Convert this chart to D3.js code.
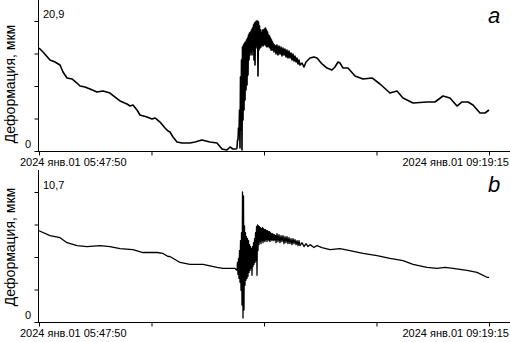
<!DOCTYPE html>
<html>
<head>
<meta charset="utf-8">
<script src="https://cdn.jsdelivr.net/npm/d3@7"></script>
<style>
  body { margin: 0; background: #fff; }
  svg { display: block; font-family: "Liberation Sans", Arial, sans-serif; }
</style>
</head>
<body>
<div id="chart"></div>
<script>
// time range of the record
const startTime = new Date(2024, 0, 1, 5, 47, 50)
const endTime = new Date(2024, 0, 1, 9, 19, 15)

// tick labels
const xLabels = ["2024 янв.01 05:47:50", "2024 янв.01 09:19:15"]
const xTickMinutes = [0, 52.85, 105.71, 158.56, 211.42]
const panelLetters = ["a", "b"]
const yTitle = "Деформация, мкм"
const yMax = [20.9, 10.7]

// [minutes from start, deformation]
const seriesA = [
  [0, 16.56], [1.88, 15.92], [5.17, 14.63], [7.52, 14.31], [9.87, 13.83], [11.28, 12.70],
  [13.15, 11.74], [15.50, 11.58], [17.85, 10.93], [19.26, 10.45], [21.61, 10.29], [23.96, 9.97],
  [27.25, 9.49], [30.07, 9.65], [33.36, 9.32], [35.71, 8.68], [38.06, 8.04], [41.34, 7.56],
  [42.75, 7.23], [44.16, 7.40], [46.04, 6.59], [47.45, 5.79], [50.74, 5.47], [53.09, 5.14],
  [54.50, 5.31], [56.85, 4.66], [59.20, 3.70], [60.61, 3.22], [61.55, 3.05], [62.95, 2.25],
  [64.83, 1.45], [67.18, 1.29], [70.94, 1.29], [73.29, 1.45], [76.58, 1.77], [80.34, 1.45],
  [83.63, 1.29], [85.98, 0.32], [88.32, 0.16], [89.73, 0.64], [91.14, 0.32], [92.55, 0.32],
  // burst
  [93.02, 0.48], [93.26, 1.77], [93.49, 1.77], [93.73, 3.70], [93.96, 2.57], [94.20, 6.59],
  [94.43, 0.48], [94.67, 11.90], [94.90, 3.38], [95.14, 14.63], [95.37, 0.16], [95.61, 16.72],
  [95.84, 4.98], [96.08, 17.04], [96.31, 6.59], [96.55, 17.36], [96.78, 8.20], [97.02, 17.52],
  [97.25, 9.81], [97.49, 17.85], [97.72, 10.61], [97.96, 18.17], [98.19, 12.22], [98.43, 18.65],
  [98.66, 14.63], [98.90, 18.97], [99.13, 15.43], [99.37, 19.13], [99.60, 15.92], [99.84, 19.45],
  [100.07, 15.43], [100.31, 19.77], [100.54, 16.24], [100.78, 20.26], [101.01, 14.63], [101.25, 20.58],
  [101.48, 13.83], [101.72, 20.74], [101.95, 16.56], [102.19, 20.90], [102.42, 17.04], [102.66, 20.90],
  [102.89, 12.06], [103.13, 20.74], [103.36, 16.24], [103.60, 20.10], [103.83, 16.56], [104.07, 19.45],
  [104.30, 16.72], [104.54, 18.97], [104.77, 17.04], [105.01, 19.45], [105.24, 16.88], [105.48, 19.45],
  [105.71, 17.04], [105.95, 19.61], [106.18, 17.20], [106.42, 19.77], [106.65, 16.88], [106.89, 19.45],
  [107.12, 16.72], [107.36, 19.13], [107.59, 16.88], [107.83, 18.65], [108.06, 16.72], [108.30, 18.49],
  [108.53, 16.56], [108.77, 18.17], [109.00, 16.24], [109.24, 17.85], [109.47, 16.24], [109.71, 17.52],
  [109.94, 16.24], [110.18, 17.20], [110.41, 15.92], [110.65, 17.04], [110.88, 16.24], [111.12, 16.88],
  // decay
  [111.35, 15.59], [111.81, 17.04], [112.28, 15.43], [112.75, 16.88], [113.22, 15.59], [113.69, 16.72],
  [114.16, 15.27], [114.63, 16.56], [115.10, 15.43], [115.57, 16.40], [116.04, 15.11], [116.51, 16.24],
  [116.98, 14.95], [117.45, 16.08], [117.92, 14.95], [118.39, 15.76], [118.86, 14.63], [119.33, 15.59],
  [119.80, 14.47], [120.27, 15.27], [120.74, 14.31], [121.21, 14.95], [121.68, 13.99], [122.15, 14.63],
  [122.62, 13.83], [123.56, 14.15], [124.50, 13.50], [125.44, 14.31], [127.32, 14.95], [129.20, 15.11],
  [130.61, 14.95], [132.96, 13.99], [135.31, 13.34], [137.65, 13.02], [139.06, 13.50], [140.47, 14.31],
  [141.41, 14.15], [142.82, 13.34], [145.17, 13.34], [148.46, 12.06], [152.22, 11.58], [156.45, 11.74],
  [160.20, 10.77], [164.90, 9.32], [168.19, 9.65], [171.01, 8.52], [175.71, 7.72], [182.29, 7.88],
  [186.04, 7.88], [189.80, 8.84], [193.09, 8.52], [196.38, 7.23], [198.73, 7.88], [201.55, 7.88],
  [203.90, 7.40], [207.19, 6.11], [209.54, 6.11], [211.42, 6.59]
]

const seriesB = [
  [0, 7.51], [5.17, 7.11], [9.87, 6.94], [13.15, 6.53], [17.85, 6.29], [22.55, 6.21],
  [28.66, 6.29], [33.36, 6.21], [38.06, 6.04], [44.16, 5.96], [48.86, 5.72], [55.44, 5.72],
  [58.26, 5.64], [60.61, 5.39], [61.55, 5.39], [66.24, 4.90], [70.94, 4.74], [77.05, 4.74],
  [83.63, 4.49], [86.44, 4.41], [92.08, 4.41],
  // burst
  [93.02, 4.25], [93.26, 4.90], [93.49, 3.92], [93.73, 5.23], [93.96, 3.59], [94.20, 5.88],
  [94.43, 3.27], [94.67, 6.70], [94.90, 2.61], [95.14, 7.35], [95.37, 1.39], [95.61, 10.70],
  [95.84, 0.33], [96.08, 10.37], [96.31, 0.98], [96.55, 7.92], [96.78, 3.02], [97.02, 7.35],
  [97.25, 3.43], [97.49, 7.02], [97.72, 3.59], [97.96, 6.86], [98.19, 3.76], [98.43, 6.70],
  [98.66, 4.08], [98.90, 6.37], [99.13, 4.25], [99.37, 6.21], [99.60, 4.41], [99.84, 6.04],
  [100.07, 3.84], [100.31, 6.21], [100.54, 4.57], [100.78, 6.53], [101.01, 4.74], [101.25, 6.86],
  [101.48, 4.90], [101.72, 7.35], [101.95, 5.06], [102.19, 7.84], [102.42, 3.84], [102.66, 8.00],
  [102.89, 5.88], [103.13, 7.92], [103.36, 6.37], [103.60, 7.84], [103.83, 6.62], [104.07, 7.76],
  [104.30, 6.45], [104.54, 7.68], [104.77, 6.70], [105.01, 7.76], [105.24, 6.53], [105.48, 7.68],
  [105.71, 6.70], [105.95, 7.60], [106.18, 6.62], [106.42, 7.60], [106.65, 6.78], [106.89, 7.51],
  [107.12, 6.62], [107.36, 7.51], [107.59, 6.78], [107.83, 7.43], [108.06, 6.70], [108.30, 7.43],
  [108.53, 6.62], [108.77, 7.35], [109.00, 6.78], [109.24, 7.27], [109.47, 6.70], [109.71, 7.27],
  [109.94, 6.78], [110.18, 7.19], [110.41, 6.70], [110.65, 7.19], [110.88, 6.78], [111.12, 7.11],
  // decay
  [111.35, 6.53], [111.81, 7.27], [112.28, 6.62], [112.75, 7.19], [113.22, 6.53], [113.69, 7.11],
  [114.16, 6.62], [114.63, 7.11], [115.10, 6.45], [115.57, 7.02], [116.04, 6.53], [116.51, 7.02],
  [116.98, 6.45], [117.45, 6.94], [117.92, 6.45], [118.39, 6.86], [118.86, 6.37], [119.33, 6.86],
  [119.80, 6.45], [120.27, 6.78], [120.74, 6.37], [121.21, 6.70], [121.68, 6.29], [122.15, 6.70],
  [122.62, 6.29], [123.56, 6.53], [124.50, 6.21], [125.44, 6.45], [126.38, 6.21], [127.32, 6.37],
  [129.20, 6.13], [130.61, 6.29], [132.96, 6.13], [136.71, 5.96], [141.41, 6.04], [146.11, 5.88],
  [152.22, 5.64], [158.80, 5.47], [164.90, 5.23], [171.01, 5.06], [175.71, 4.74], [182.29, 4.49],
  [186.98, 4.41], [190.74, 4.49], [194.50, 4.41], [201.08, 4.25], [205.78, 4.08], [210.47, 3.68],
  [211.42, 3.68]
]

const WIDTH = 510
const HEIGHT = 342
const LEFT = 39
const RIGHT_END = 489
const PANEL_STEP = 171

const ru = d3.formatLocale({ decimal: ",", thousands: " ", grouping: [3], currency: ["", ""] })
const fmt = ru.format(".1f")
const toDate = m => new Date(startTime.getTime() + m * 60000)

const svg = d3.select("#chart")
    .append("svg")
    .attr("width", WIDTH)
    .attr("height", HEIGHT)

const x = d3.scaleTime()
    .domain([startTime, endTime])
    .range([LEFT, RIGHT_END])

const panels = [
    { data: seriesA, max: yMax[0], letter: panelLetters[0], width: 1.6, titleY: 84 },
    { data: seriesB, max: yMax[1], letter: panelLetters[1], width: 1.3, titleY: 76 }
]

panels.forEach((p, i) => {
    const top = i * PANEL_STEP
    const g = svg.append("g").attr("transform", "translate(0," + top + ")")

    const y = d3.scaleLinear()
        .domain([0, p.max])
        .range([151, 21])

    //y ticks: 4 equal steps up to the max
    const yTicks = [0, 1, 2, 3, 4].map(k => p.max * k / 4)
    const yAxis = d3.axisLeft(y).tickValues(yTicks).tickSize(4).tickFormat("")
    g.append("g")
        .attr("transform", "translate(" + (LEFT - 0.5) + ",0)")
        .call(yAxis)
        .call(s => s.select(".domain").remove())

    const xAxis = d3.axisBottom(x)
        .tickValues(xTickMinutes.map(toDate))
        .tickSize(4)
        .tickSizeOuter(0)
        .tickFormat("")
    g.append("g")
        .attr("transform", "translate(0," + 151.5 + ")")
        .call(xAxis)
        .call(s => s.select(".domain").remove())

    g.selectAll(".tick line").attr("stroke", "#000")

    //axis lines
    g.append("line")
        .attr("x1", LEFT - 0.5).attr("x2", LEFT - 0.5)
        .attr("y1", i === 0 ? 0 : -1).attr("y2", 152)
        .attr("stroke", "#000")
    g.append("line")
        .attr("x1", LEFT - 1).attr("x2", WIDTH)
        .attr("y1", 151.5).attr("y2", 151.5)
        .attr("stroke", "#000")

    const line = d3.line()
        .x(d => x(toDate(d[0])))
        .y(d => y(d[1]))

    g.append("path")
        .datum(p.data)
        .attr("fill", "none")
        .attr("stroke", "#000")
        .attr("stroke-width", p.width)
        .attr("stroke-linejoin", "round")
        .attr("d", line)

    //value labels
    g.append("text")
        .attr("x", LEFT + 4)
        .attr("y", 18)
        .attr("font-size", 11)
        .text(fmt(p.max))
    g.append("text")
        .attr("x", LEFT - 8)
        .attr("y", 148)
        .attr("text-anchor", "end")
        .attr("font-size", 11)
        .text("0")

    //time labels
    g.append("text")
        .attr("x", 20)
        .attr("y", 166)
        .attr("font-size", 11)
        .text(xLabels[0])
    g.append("text")
        .attr("x", WIDTH - 1)
        .attr("y", 166)
        .attr("text-anchor", "end")
        .attr("font-size", 11)
        .text(xLabels[1])

    g.append("text")
        .attr("x", -p.titleY)
        .attr("y", 15)
        .attr("text-anchor", "middle")
        .attr("font-size", 14)
        .attr("transform", "rotate(-90)")
        .text(yTitle)

    g.append("text")
        .attr("x", 488)
        .attr("y", i === 0 ? 23 : 21)
        .attr("font-size", 22)
        .attr("font-style", "italic")
        .text(p.letter)
})
</script>
</body>
</html>
